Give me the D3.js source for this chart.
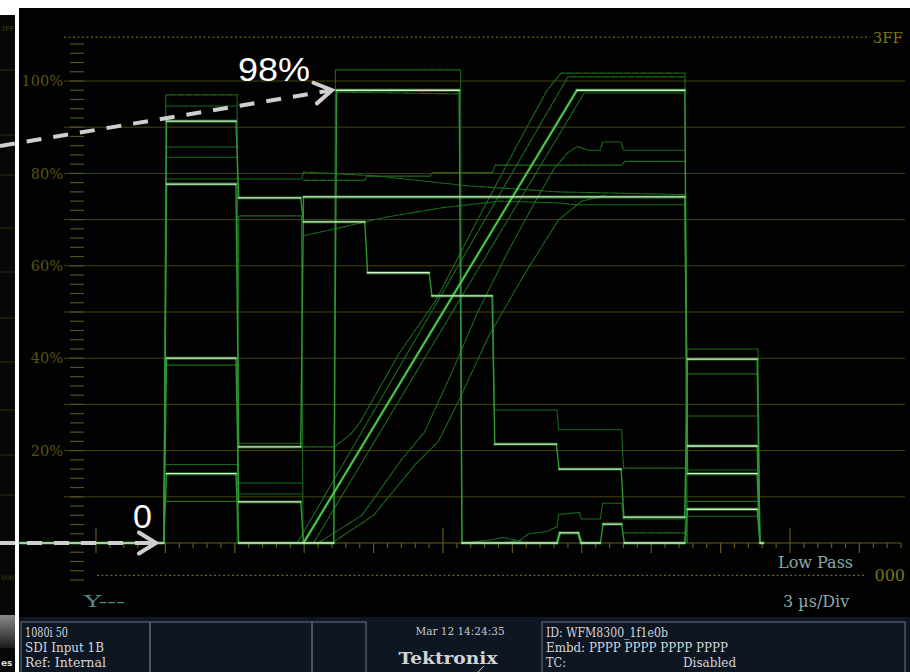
<!DOCTYPE html>
<html>
<head>
<meta charset="utf-8">
<script src="https://cdn.jsdelivr.net/npm/d3@7"></script>
<style>
  body { margin: 0; background: #fff; }
  svg { display: block; }
</style>
</head>
<body>
<svg id="chart"></svg>
<script>
const width = 910;
const height = 672;

// graticule
const gridLevels = [10, 20, 30, 40, 50, 60, 70, 80, 90, 100];
const labelLevels = [20, 40, 60, 80, 100];
const minorTickLevels = d3.range(-8, 109, 2);
const timeTicks = d3.range(0, 34.81, 0.6);   // µs, 3 µs/Div with 5 subdivisions
const topCode = { label: "3FF", level: 109.5 };
const bottomCode = { label: "000", level: -7.0 };

// bright (repeated) traces : [time µs, level %]
const brightTraces = [
  [[-3.3,0],[2.93,0],[3.05,91.3],[6.05,91.3],[6.17,74.7],[8.85,74.7],[8.97,69.5],[11.62,69.5],[11.74,58.5],
   [14.4,58.5],[14.52,53.5],[17.12,53.5],[17.24,21.4],[19.9,21.4],[20.02,16],[22.7,16],[22.82,5.6],
   [25.45,5.6],[25.57,39.8],[28.58,39.8],[28.7,0],[28.85,0]],
  [[2.93,0],[3.05,77.7],[6.05,77.7],[6.17,20.8],[8.85,20.8],[8.97,74.9],[25.45,74.9],[25.57,21],[28.58,21],[28.7,0]],
  [[2.93,0],[3.05,40],[6.05,40],[6.17,8.9],[8.85,8.9],[8.97,0],[20.79,98],[25.45,98],[25.57,15],[28.58,15],[28.7,0]],
  [[2.93,0],[3.05,15],[6.05,15],[6.17,0],[10.28,0],[10.4,98],[15.7,98],[15.82,0],[19.93,0],[20.05,2.2],[20.85,2.2],
   [20.97,0],[21.8,0],[21.92,4.1],[22.72,4.1],[22.84,0],[25.45,0],[25.57,7.3],[28.58,7.3],[28.7,0]]
];

// faint traces
const dimTraces = [
  [[2.95,0],[3.02,97],[6.1,97],[6.16,0]],
  [[3.02,94.6],[6.1,94.6]],
  [[3.02,85.7],[6.1,85.7]],
  [[3.02,83.5],[6.1,83.5]],
  [[3.02,78.8],[8.9,78.8],[8.97,80.3],[12,79.5],[16.1,77.3],[20,76],[25.46,75.4],[25.55,0]],
  [[3.02,38.5],[6.1,38.5]],
  [[3.02,17],[6.1,17]],
  [[3.02,9],[6.1,9]],
  [[6.1,0],[6.17,70.8],[8.88,70.8],[8.95,0]],
  [[6.17,21.6],[8.88,21.6]],
  [[6.17,13],[8.88,13]],
  [[6.17,10.6],[8.88,10.6]],
  [[10.28,0],[10.35,102.4],[15.76,102.4],[15.82,0]],
  [[10.35,97.6],[15.76,97.2]],
  [[8.97,66.5],[10.5,68.2],[12.5,70.5],[15,72.6],[17.5,74],[20,73.6],[20.8,73.2],[25.46,73.2]],
  [[8.97,78.5],[11.6,78.5],[11.72,79.4],[14.44,79.4],[14.55,80.2],[17.14,80.2],[17.26,81.8],[22.74,81.8],
   [22.86,82.6],[25.46,82.6]],
  [[9.6,0],[11.5,6],[13.2,18],[14.2,24],[15.3,36],[16.5,50],[17.8,63],[19,74],[19.8,81],[20.4,84.5],
   [20.8,85.8],[21.3,85],[21.8,85],[21.9,86.8],[22.7,86.8],[22.8,85],[25.46,85]],
  [[8.97,20.8],[10.3,20.8],[11,23.5],[11.4,26],[13.1,41],[14.7,52.6],[16.5,70],[18.3,87],[19.5,98],
   [20.1,101.7],[25.46,101.7],[25.55,0]],
  [[8.7,0],[20.4,100.9],[25.46,100.9]],
  [[9.4,0],[21.1,97.4],[25.46,97.4]],
  [[10.2,0],[12,6],[13.8,17],[14.8,22],[15.6,30],[17,45],[18.5,58],[20,70],[21,74],[22,75.2]],
  [[25.46,0],[25.53,42],[28.62,42],[28.7,0]],
  [[25.53,36.6],[28.62,36.6]],
  [[25.53,27.5],[28.62,27.5]],
  [[25.53,15.8],[28.62,15.8]],
  [[25.53,9],[28.62,9]],
  [[25.53,5.8],[28.62,5.8]],
  [[17.16,53.5],[17.22,28.8],[19.93,28.8],[20,24.5],[22.72,24.5],[22.8,16.2],[25.46,16.2]],
  [[17.5,0],[18.3,0.5],[18.7,2],[19.5,2.5],[19.93,3.5],[20,6.2],[20.9,6.6],[20.97,5.2],[21.8,5.2],
   [21.9,8.6],[22.72,8.6],[22.8,5.2],[25.46,5.2]],
  [[15.8,0],[17,0.6],[17.6,1.2],[18.4,0.3]],
  [[22.8,2.2],[25.46,2.2]]
];

// annotations
const peakNote = { text: "98%", time: 10.33, level: 98 };
const blackNote = { text: "0", time: 2.98, level: 0 };

// status bar
const statusLeft = ["1080i 50", "SDI Input 1B", "Ref: Internal"];
const statusRight = ["ID: WFM8300_1f1e0b", "Embd: PPPP PPPP PPPP PPPP", "TC:"];
const statusDate = "Mar 12 14:24:35";

const svg = d3.select("#chart")
  .attr("width", width)
  .attr("height", height)
  .attr("viewBox", [0, 0, width, height]);

const x = d3.scaleLinear().domain([0, 15]).range([96, 443]);
const y = d3.scaleLinear().domain([0, 100]).range([543, 81]);

const serif = "'DejaVu Serif', serif";
const olive = "#47430f";

// background panels
svg.append("rect").attr("x", 0).attr("y", 0).attr("width", width).attr("height", height).attr("fill", "#fff");
svg.append("rect").attr("x", 0).attr("y", 15).attr("width", 15).attr("height", height - 15).attr("fill", "#070707");
svg.append("rect").attr("x", 19).attr("y", 8).attr("width", width - 19).attr("height", 609).attr("fill", "#020202");
svg.append("rect").attr("x", 19).attr("y", 617).attr("width", width - 19).attr("height", 55).attr("fill", "#0e1622");

// left strip (edge of a neighbouring screen)
const strip = svg.append("g");
strip.selectAll("line")
  .data([70, 135, 175, 228, 272, 318, 362, 410, 455, 495])
  .join("line")
    .attr("x1", 0).attr("x2", 15)
    .attr("y1", d => d).attr("y2", d => d)
    .attr("stroke", "#2e2c10");
strip.append("text").attr("x", 14).attr("y", 31).attr("text-anchor", "end")
  .attr("font-family", serif).attr("font-size", 6.5).attr("fill", "#4a4614").text("3FF");
strip.append("text").attr("x", 14).attr("y", 580).attr("text-anchor", "end")
  .attr("font-family", serif).attr("font-size", 6.5).attr("fill", "#4a4614").text("000");
const grad = svg.append("defs").append("linearGradient").attr("id", "btn").attr("x1", 0).attr("x2", 0).attr("y1", 0).attr("y2", 1);
grad.append("stop").attr("offset", 0).attr("stop-color", "#8a8a8a");
grad.append("stop").attr("offset", 1).attr("stop-color", "#1c1c1c");
strip.append("rect").attr("x", 0).attr("y", 615).attr("width", 15).attr("height", 33).attr("fill", "url(#btn)");
strip.append("text").attr("x", 1).attr("y", 666).attr("font-family", "'DejaVu Sans', sans-serif")
  .attr("font-weight", "bold").attr("font-size", 9).attr("fill", "#ddd").text("es");

// graticule lines
const grat = svg.append("g");
grat.selectAll("line.grid")
  .data(gridLevels)
  .join("line")
    .attr("class", "grid")
    .attr("x1", 64).attr("x2", 905)
    .attr("y1", d => y(d)).attr("y2", d => y(d))
    .attr("stroke", olive).attr("stroke-width", 1);

grat.selectAll("line.tick")
  .data(minorTickLevels)
  .join("line")
    .attr("class", "tick")
    .attr("x1", 70).attr("x2", 84)
    .attr("y1", d => y(d)).attr("y2", d => y(d))
    .attr("stroke", "#56511a").attr("stroke-width", 1.2);

grat.selectAll("text.pct")
  .data(labelLevels)
  .join("text")
    .attr("class", "pct")
    .attr("x", 63).attr("y", d => y(d))
    .attr("dy", "0.36em")
    .attr("text-anchor", "end")
    .attr("font-family", serif).attr("font-size", 14.5)
    .attr("fill", "#575316")
    .text(d => d + "%");

// code limits
grat.append("line")
  .attr("x1", 64).attr("x2", 870)
  .attr("y1", y(topCode.level)).attr("y2", y(topCode.level))
  .attr("stroke", "#6b6418").attr("stroke-width", 1.2).attr("stroke-dasharray", "2 2.5");
grat.append("text").attr("x", 903).attr("y", y(topCode.level)).attr("dy", "0.36em")
  .attr("text-anchor", "end").attr("font-family", serif).attr("font-size", 15)
  .attr("fill", "#7d7519").text(topCode.label);
grat.append("line")
  .attr("x1", 97).attr("x2", 865)
  .attr("y1", y(bottomCode.level)).attr("y2", y(bottomCode.level))
  .attr("stroke", "#6b6418").attr("stroke-width", 1.2).attr("stroke-dasharray", "2 2.5");
grat.append("text").attr("x", 905).attr("y", y(bottomCode.level)).attr("dy", "0.36em")
  .attr("text-anchor", "end").attr("font-family", serif).attr("font-size", 16)
  .attr("fill", "#7d7519").text(bottomCode.label);

// time axis
grat.append("line")
  .attr("x1", x(0)).attr("x2", x(timeTicks[timeTicks.length - 1]))
  .attr("y1", y(0)).attr("y2", y(0))
  .attr("stroke", "#625c17").attr("stroke-width", 1.2);
grat.selectAll("line.tt")
  .data(timeTicks)
  .join("line")
    .attr("class", "tt")
    .attr("x1", d => x(d)).attr("x2", d => x(d))
    .attr("y1", (d, i) => i % 25 === 0 ? y(0) - 15 : y(0))
    .attr("y2", (d, i) => i % 5 === 0 ? y(0) + 10 : y(0) + 5)
    .attr("stroke", "#5f5a16").attr("stroke-width", 1.2);

// traces
const line = d3.line().x(d => x(d[0])).y(d => y(d[1]));
const traces = svg.append("g").attr("fill", "none").attr("stroke-linejoin", "round").attr("stroke-linecap", "round");

traces.append("g")
  .selectAll("path")
  .data(dimTraces)
  .join("path")
    .attr("d", line)
    .attr("stroke", "#1c7320")
    .attr("stroke-width", 1.1)
    .attr("stroke-dasharray", "7 1.2")
    .attr("stroke-opacity", 0.95);

// split bright traces into flats, ramps and fast edges
const segs = brightTraces.flatMap(tr => d3.pairs(tr));
const slope = ([a, b]) => Math.abs(b[1] - a[1]) / Math.max(1e-6, b[0] - a[0]);
const flats = segs.filter(s => Math.abs(s[1][1] - s[0][1]) < 1);
const ramps = segs.filter(s => Math.abs(s[1][1] - s[0][1]) >= 1 && slope(s) < 30);
const edges = segs.filter(s => slope(s) >= 30);

function drawSegs(data, stroke, w, op) {
  traces.append("g")
    .selectAll("line")
    .data(data)
    .join("line")
      .attr("x1", d => x(d[0][0])).attr("x2", d => x(d[1][0]))
      .attr("y1", d => y(d[0][1])).attr("y2", d => y(d[1][1]))
      .attr("stroke", stroke)
      .attr("stroke-width", w)
      .attr("stroke-opacity", op);
}
drawSegs(edges, "#2f9d34", 1.4, 0.95);
drawSegs(ramps, "#2aa532", 3.4, 0.4);
drawSegs(ramps, "#5ad85a", 1.5, 1);
drawSegs(flats, "#35b53b", 3.4, 0.45);
drawSegs(flats, "#d6f2cc", 1.3, 1);

// annotation arrows
const ann = svg.append("g");
function arrow(x0, y0, x1, y1) {
  const a = Math.atan2(y1 - y0, x1 - x0);
  const len = 20, spread = 0.55;
  ann.append("line")
    .attr("x1", x0).attr("y1", y0).attr("x2", x1 - 4 * Math.cos(a)).attr("y2", y1 - 4 * Math.sin(a))
    .attr("stroke", "#cfcfcf").attr("stroke-width", 4).attr("stroke-dasharray", "15 12");
  ann.append("path")
    .attr("d", d3.line()([
      [x1 - len * Math.cos(a - spread), y1 - len * Math.sin(a - spread)],
      [x1, y1],
      [x1 - len * Math.cos(a + spread), y1 - len * Math.sin(a + spread)]
    ]))
    .attr("fill", "none").attr("stroke", "#cfcfcf").attr("stroke-width", 4)
    .attr("stroke-linecap", "round").attr("stroke-linejoin", "miter");
}
arrow(0, 146, x(peakNote.time) - 3, y(peakNote.level));
arrow(0, y(blackNote.level), x(blackNote.time) - 9, y(blackNote.level));

ann.append("text").attr("x", 238).attr("y", 81)
  .attr("font-family", "'Liberation Sans', Arial, sans-serif").attr("font-size", 34)
  .attr("textLength", 72).attr("lengthAdjust", "spacingAndGlyphs")
  .attr("fill", "#fff").text(peakNote.text);
ann.append("text").attr("x", 133).attr("y", 528)
  .attr("font-family", "'Liberation Sans', Arial, sans-serif").attr("font-size", 34)
  .attr("fill", "#fff").text(blackNote.text);

// readouts
const info = svg.append("g").attr("font-family", serif);
info.append("text").attr("x", 84).attr("y", 607).attr("font-size", 16).attr("fill", "#4f8b8c")
  .attr("textLength", 41).attr("lengthAdjust", "spacingAndGlyphs").text("Y---");
info.append("text").attr("x", 778).attr("y", 568).attr("font-size", 16).attr("fill", "#86a9ab").text("Low Pass");
info.append("text").attr("x", 783).attr("y", 607).attr("font-size", 16).attr("fill", "#86a9ab").text("3 µs/Div");

// status bar boxes
const boxes = [[21, 150], [150, 312], [312, 366], [542, 905]];
info.selectAll("rect.box")
  .data(boxes)
  .join("rect")
    .attr("class", "box")
    .attr("x", d => d[0]).attr("y", 622)
    .attr("width", d => d[1] - d[0]).attr("height", 60)
    .attr("fill", "none").attr("stroke", "#56606c").attr("stroke-width", 1.3);

info.selectAll("text.sl")
  .data(statusLeft)
  .join("text")
    .attr("class", "sl")
    .attr("x", 25).attr("y", (d, i) => 637 + i * 15)
    .attr("font-size", 12.5).attr("fill", "#d4d7dc")
    .attr("textLength", (d, i) => [43, 79, 81][i]).attr("lengthAdjust", "spacingAndGlyphs")
    .text(d => d);
info.selectAll("text.sr")
  .data(statusRight)
  .join("text")
    .attr("class", "sr")
    .attr("x", 546).attr("y", (d, i) => 637 + i * 15)
    .attr("font-size", 12).attr("fill", "#d4d7dc")
    .attr("textLength", (d, i) => [122, 182, 20][i]).attr("lengthAdjust", "spacingAndGlyphs")
    .text(d => d);
info.append("text").attr("x", 683).attr("y", 667).attr("font-size", 12).attr("fill", "#d4d7dc").text("Disabled");
info.append("text").attr("x", 460).attr("y", 635).attr("text-anchor", "middle")
  .attr("font-size", 10.5).attr("fill", "#c3c7cc").text(statusDate);
info.append("text").attr("x", 448).attr("y", 664).attr("text-anchor", "middle")
  .attr("font-size", 16).attr("font-weight", "bold").attr("fill", "#d0d3d8")
  .attr("textLength", 99).attr("lengthAdjust", "spacingAndGlyphs").text("Tektronix");
info.append("line").attr("x1", 478).attr("y1", 672).attr("x2", 484).attr("y2", 666)
  .attr("stroke", "#c0c4c8").attr("stroke-width", 1);
</script>
</body>
</html>
